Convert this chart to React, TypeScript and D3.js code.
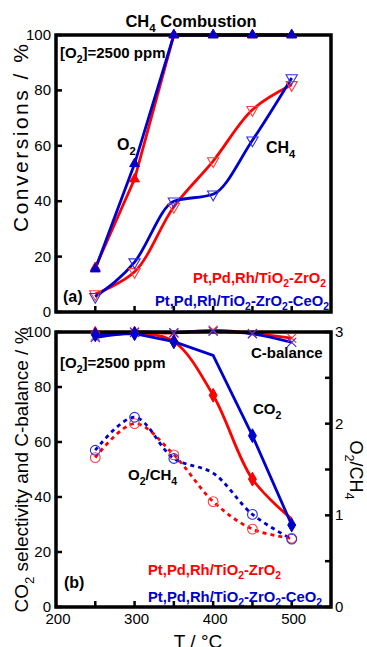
import React from 'react';
import * as d3 from 'd3';

// temperatures (°C)
const temps = [250, 300, 350, 400, 450, 500];

// (a) conversions / %
const o2ConvRed = [16, 48, 100, 100, 100, 100];
const o2ConvBlue = [15.5, 53.5, 100, 100, 100, 100];
const ch4ConvRed = [6.5, 14.5, 38, 54.5, 73, 82];
const ch4ConvBlue = [5.5, 18, 40, 42.5, 62, 84.5];

// (b) CO2 selectivity / %, C-balance / %, O2/CH4 ratio
const co2SelRed = [99.5, 99.6, 96.5, 77, 46.5, 32];
const co2SelBlue = [99, 99.4, 96.5, 91.5, 62.3, 29.8];
const cBalRed = [98.5, 100, 99.6, 100.7, 99.5, 97.8];
const cBalBlue = [98, 99.8, 99.8, 100.2, 99.3, 96.2];
const o2ch4Red = [1.63, 2.0, 1.66, 1.15, 0.85, 0.75];
const o2ch4Blue = [1.71, 2.07, 1.62, 1.46, 1.01, 0.74];

// which points carry a marker
const co2MarkRed = [true, true, true, true, true, false];
const co2MarkBlue = [true, true, true, false, true, true];
const ratioMarkBlue = [true, true, true, false, true, true];

const yTicks = [0, 20, 40, 60, 80, 100];
const xTicks = [250, 300, 350, 400, 450, 500];
const xLabels = [200, 300, 400, 500];
const rTicks = [0, 0.5, 1, 1.5, 2, 2.5, 3];
const rLabels = [0, 1, 2, 3];

const RED = '#ff0000';
const BLUE = '#0000cc';
const FONT = '"Liberation Sans", Arial, Helvetica, sans-serif';

// turns "O_2" into tspans with a subscript
function chem(s: string, fs: number) {
  const parts = s.split(/_(\d)/);
  const out: any[] = [];
  let down = false;
  parts.forEach((p, i) => {
    if (i % 2 === 1) {
      out.push(<tspan key={i} dy={fs * 0.3} fontSize={fs * 0.7}>{p}</tspan>);
      down = true;
    } else if (p) {
      out.push(<tspan key={i} dy={down ? -fs * 0.3 : 0}>{p}</tspan>);
      down = false;
    }
  });
  return out;
}

const x = d3.scaleLinear().domain([200, 550]).range([56, 331]);
const yTop = d3.scaleLinear().domain([0, 100]).range([312, 35]);
const yBot = d3.scaleLinear().domain([0, 100]).range([607, 332]);
const yRat = d3.scaleLinear().domain([0, 3]).range([607, 332]);

const triUp = d3.symbol().type(d3.symbolTriangle).size(42)() as string;
const triDown = d3.symbol().type(d3.symbolTriangle).size(55)() as string;
const diamond = d3.symbol().type(d3.symbolDiamond).size(55)() as string;
const circle = d3.symbol().type(d3.symbolCircle).size(75)() as string;
const cross = d3.symbol().type(d3.symbolTimes).size(55)() as string;

const smooth = d3.curveCatmullRom.alpha(0.5);

function linePath(vals: number[], y: d3.ScaleLinear<number, number>, curve: any) {
  return d3
    .line<number>()
    .x((_, i) => x(temps[i]))
    .y((d) => y(d))
    .curve(curve)(vals) as string;
}

type Series = {
  vals: number[];
  y: d3.ScaleLinear<number, number>;
  color: string;
  dash?: string;
  curve?: any;
};

function Lines({ list }: { list: Series[] }) {
  return (
    <g>
      {list.map((s, k) => (
        <path key={k} d={linePath(s.vals, s.y, s.curve || smooth)} fill="none" stroke={s.color}
          strokeWidth={2.8} strokeDasharray={s.dash} />
      ))}
    </g>
  );
}

function Marks({ vals, y, shape, color, filled, rotate, mask }: any) {
  return (
    <g>
      {vals.map((v: number, i: number) =>
        mask && !mask[i] ? null : (
          <path key={i} d={shape}
            transform={`translate(${x(temps[i])},${y(v)})${rotate ? ' rotate(180)' : ''}`}
            fill={filled ? color : 'none'} stroke={color}
            strokeWidth={filled ? 1 : 1.1} />
        )
      )}
    </g>
  );
}

function Frame({ y0, y1 }: { y0: number; y1: number }) {
  return <rect x={56} y={y1} width={275} height={y0 - y1} fill="none" stroke="#000" strokeWidth={3.5} />;
}

export default function App() {
  const tickStyle = { fontFamily: FONT, fontSize: 15, fill: '#000' };
  const bold = { fontFamily: FONT, fontWeight: 700 as const };
  return (
    <svg width={367} height={647} style={{ position: 'absolute', left: 0, top: 0, background: '#fff' }}>
      <rect width={367} height={647} fill="#fff" />
      {/* title */}
      <text x={191} y={27} textAnchor="middle" fontSize={16.5} {...bold}>{chem('CH_4 Combustion', 16.5)}</text>

      {/* ---------- panel (a) ---------- */}
      <Lines list={[
        { vals: o2ConvRed, y: yTop, color: RED, curve: d3.curveLinear },
        { vals: ch4ConvRed, y: yTop, color: RED },
        { vals: o2ConvBlue, y: yTop, color: BLUE, curve: d3.curveLinear },
        { vals: ch4ConvBlue, y: yTop, color: BLUE, curve: d3.curveMonotoneX },
      ]} />
      <Frame y0={312} y1={35} />
      {yTicks.map((t) => (
        <g key={t}>
          <line x1={56} x2={62} y1={yTop(t)} y2={yTop(t)} stroke="#000" strokeWidth={2.5} />
          <text x={51} y={yTop(t) + 5} textAnchor="end" {...tickStyle}>{t}</text>
        </g>
      ))}
      {xTicks.map((t) => (
        <line key={t} x1={x(t)} x2={x(t)} y1={312} y2={306} stroke="#000" strokeWidth={2.5} />
      ))}
      <Marks vals={o2ConvRed} y={yTop} shape={triUp} color={RED} filled />
      <Marks vals={ch4ConvRed} y={yTop} shape={triDown} color="#ff4040" rotate />
      <Marks vals={o2ConvBlue} y={yTop} shape={triUp} color={BLUE} filled />
      <Marks vals={ch4ConvBlue} y={yTop} shape={triDown} color="#3030e0" rotate />

      <text x={60} y={58} fontSize={15} {...bold}>{chem('[O_2]=2500 ppm', 15)}</text>
      <text x={117} y={150} fontSize={16} {...bold}>{chem('O_2', 16)}</text>
      <text x={266} y={153} fontSize={16} {...bold}>{chem('CH_4', 16)}</text>
      <text x={63} y={302} fontSize={16} {...bold}>(a)</text>
      <text x={326} y={283} textAnchor="end" fontSize={14.8} fill={RED} {...bold}>{chem('Pt,Pd,Rh/TiO_2-ZrO_2', 14.8)}</text>
      <text x={329} y={306} textAnchor="end" fontSize={14.8} fill={BLUE} {...bold}>{chem('Pt,Pd,Rh/TiO_2-ZrO_2-CeO_2', 14.8)}</text>
      <text transform="translate(28,138) rotate(-90)" textAnchor="middle" fontFamily={FONT}
        fontSize={21} textLength={188} lengthAdjust="spacing">Conversions / %</text>

      {/* ---------- panel (b) ---------- */}
      <Lines list={[
        { vals: cBalRed, y: yBot, color: RED },
        { vals: co2SelRed, y: yBot, color: RED },
        { vals: o2ch4Red, y: yRat, color: RED, dash: '4,4' },
        { vals: cBalBlue, y: yBot, color: BLUE },
        { vals: co2SelBlue, y: yBot, color: BLUE, curve: d3.curveLinear },
        { vals: o2ch4Blue, y: yRat, color: BLUE, dash: '4,4' },
      ]} />
      <Frame y0={607} y1={332} />
      {yTicks.map((t) => (
        <g key={t}>
          <line x1={56} x2={62} y1={yBot(t)} y2={yBot(t)} stroke="#000" strokeWidth={2.5} />
          <text x={51} y={yBot(t) + 5} textAnchor="end" {...tickStyle}>{t}</text>
        </g>
      ))}
      {rTicks.map((t) => (
        <line key={t} x1={331} x2={325} y1={yRat(t)} y2={yRat(t)} stroke="#000" strokeWidth={2.5} />
      ))}
      {rLabels.map((t) => (
        <text key={t} x={335} y={yRat(t) + 5} {...tickStyle}>{t}</text>
      ))}
      {xTicks.map((t) => (
        <line key={t} x1={x(t)} x2={x(t)} y1={607} y2={601} stroke="#000" strokeWidth={2.5} />
      ))}
      {xLabels.map((t) => (
        <text key={t} x={x(t) + 2} y={624} textAnchor="middle" {...tickStyle}>{t}</text>
      ))}
      <Marks vals={cBalRed} y={yBot} shape={cross} color="#ff3030" />
      <Marks vals={o2ch4Red} y={yRat} shape={circle} color="#ff4040" />
      <Marks vals={co2SelRed} y={yBot} shape={diamond} color={RED} filled mask={co2MarkRed} />
      <Marks vals={cBalBlue} y={yBot} shape={cross} color="#3030e0" />
      <Marks vals={o2ch4Blue} y={yRat} shape={circle} color="#3030e0" mask={ratioMarkBlue} />
      <Marks vals={co2SelBlue} y={yBot} shape={diamond} color={BLUE} filled mask={co2MarkBlue} />

      <text x={60} y={368} fontSize={15} {...bold}>{chem('[O_2]=2500 ppm', 15)}</text>
      <text x={251} y={358} fontSize={15} {...bold}>C-balance</text>
      <text x={253} y={414} fontSize={15} {...bold}>{chem('CO_2', 15)}</text>
      <text x={128} y={480} fontSize={15} {...bold}>{chem('O_2/CH_4', 15)}</text>
      <text x={64} y={588} fontSize={16} {...bold}>(b)</text>
      <text x={148} y={575} fontSize={14.8} fill={RED} {...bold}>{chem('Pt,Pd,Rh/TiO_2-ZrO_2', 14.8)}</text>
      <text x={148} y={602} fontSize={14.8} fill={BLUE} {...bold}>{chem('Pt,Pd,Rh/TiO_2-ZrO_2-CeO_2', 14.8)}</text>

      <text transform="translate(28,470) rotate(-90)" textAnchor="middle" fontFamily={FONT}
        fontSize={19}>{chem('CO_2 selectivity  and C-balance / %', 19)}</text>
      <text transform="translate(350,470) rotate(90)" textAnchor="middle" fontFamily={FONT}
        fontSize={18}>{chem('O_2/CH_4', 18)}</text>
      <text x={198} y={648} textAnchor="middle" fontFamily={FONT} fontSize={19}>T / °C</text>
    </svg>
  );
}
